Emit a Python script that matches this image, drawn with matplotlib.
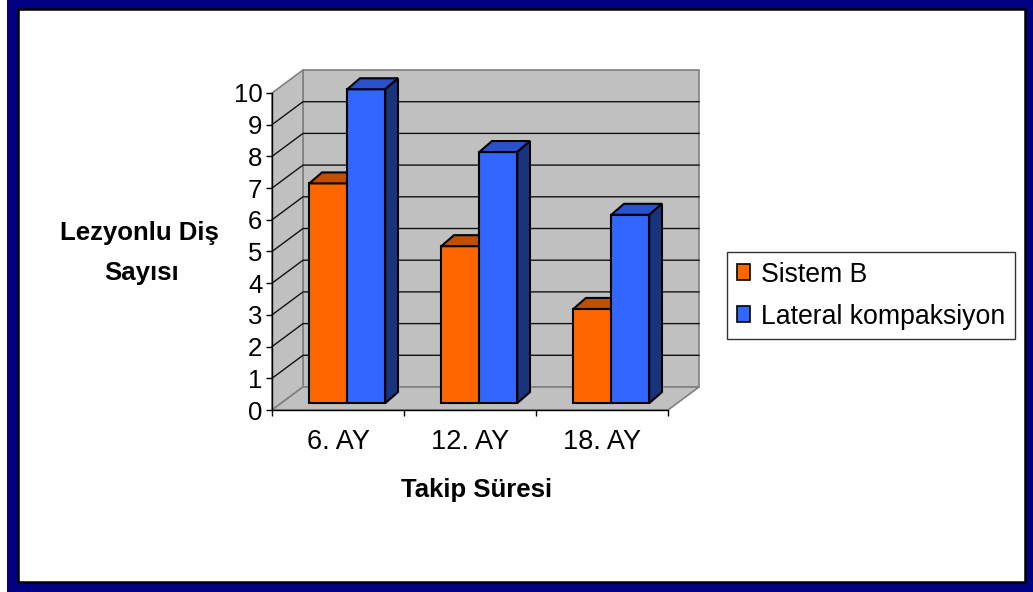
import matplotlib
matplotlib.use("Agg")
import matplotlib.pyplot as plt
from matplotlib.patches import Polygon, Rectangle, Patch

plt.rcParams['font.family'] = ['Liberation Sans', 'DejaVu Sans']

# data
categories = ['6. AY', '12. AY', '18. AY']
sistem_b = [7, 5, 3]
lateral = [10, 8, 6]
series_names = ['Sistem B', 'Lateral kompaksiyon']
y_ticks = list(range(0, 11))

W, H = 1033, 592
FRONT = ['#FF6600', '#3366FF']
TOP = ['#C04F00', '#2952CC']
SIDE = ['#803300', '#1A337F']
WALL = '#C0C0C0'
WALL_EDGE = '#808080'
FS = 18.5


def px(x, y):
    return x / W, 1 - y / H


fig = plt.figure(figsize=(W / 100, H / 100), dpi=100)
fig.patch.set_facecolor('white')

# navy frame with a black inner line
fig.patches.append(Rectangle(px(7, 592), (W - 7) / W, 1, transform=fig.transFigure,
                             facecolor='#000080', edgecolor='none', zorder=-20))
fig.patches.append(Rectangle(px(18, 581.5), (1024.5 - 18) / W, (581.5 - 9) / H,
                             transform=fig.transFigure, facecolor='white',
                             edgecolor='black', linewidth=1.8, zorder=-19))

# axes = front plane of the 3d box
ax = fig.add_axes([272 / W, (H - 410) / H, 396 / W, 317 / H])
ax.set_xlim(0, len(categories))
ax.set_ylim(0, 10)
ax.patch.set_visible(False)
for s in ['top', 'right']:
    ax.spines[s].set_visible(False)
for s in ['left', 'bottom']:
    ax.spines[s].set_color('black')
    ax.spines[s].set_linewidth(1.0)
    ax.spines[s].set_zorder(6)

# depth in data units
DX, DY = 31 / 132, 23 / 31.7
n = len(categories)

ax.add_patch(Polygon([(DX, DY), (n + DX, DY), (n + DX, 10 + DY), (DX, 10 + DY)],
                     closed=True, facecolor=WALL, edgecolor=WALL_EDGE, lw=1.2,
                     clip_on=False, zorder=1))
ax.add_patch(Polygon([(0, 0), (DX, DY), (DX, 10 + DY), (0, 10)], closed=True,
                     facecolor=WALL, edgecolor=WALL_EDGE, lw=1.2, clip_on=False, zorder=1))
ax.add_patch(Polygon([(0, 0), (n, 0), (n + DX, DY), (DX, DY)], closed=True,
                     facecolor=WALL, edgecolor=WALL_EDGE, lw=1.2, clip_on=False, zorder=1))
for v in y_ticks[1:-1]:
    ax.plot([0, DX, n + DX], [v, v + DY, v + DY], color='#111111', lw=1.0,
            clip_on=False, zorder=2)

# bars
BX, BY = 0.33 * DX, 0.30 * DY
BDX, BDY = 12.7 / 132, 11 / 31.7
bw = 38 / 132
start = 0.205
z = 3
for i in range(n):
    for k, vals in enumerate([sistem_b, lateral]):
        h = vals[i]
        x0 = i + start + k * bw + BX
        x1 = x0 + bw
        y0 = BY
        y1 = BY + h * 0.99
        ax.add_patch(Polygon([(x0, y0), (x1, y0), (x1, y1), (x0, y1)], closed=True,
                             facecolor=FRONT[k], edgecolor='black', lw=1.5,
                             clip_on=False, zorder=z))
        ax.add_patch(Polygon([(x0, y1), (x1, y1), (x1 + BDX, y1 + BDY), (x0 + BDX, y1 + BDY)],
                             closed=True, facecolor=TOP[k], edgecolor='black', lw=1.5,
                             clip_on=False, zorder=z))
        ax.add_patch(Polygon([(x1, y0), (x1 + BDX, y0 + BDY), (x1 + BDX, y1 + BDY), (x1, y1)],
                             closed=True, facecolor=SIDE[k], edgecolor='black', lw=1.5,
                             clip_on=False, zorder=z))
        z += 0.1

# ticks
ax.set_yticks(y_ticks)
ax.set_yticklabels([str(v) for v in y_ticks], fontsize=FS)
ax.tick_params(axis='y', length=4, width=1, pad=3, colors='black')
ax.set_xticks(range(n + 1))
ax.set_xticklabels([])
ax.set_xticks([i + 0.5 for i in range(n)], minor=True)
ax.set_xticklabels(categories, minor=True, fontsize=19.5)
ax.tick_params(axis='x', which='major', length=4, width=1)
ax.tick_params(axis='x', which='minor', length=0, pad=14)

# axis titles
fig.text(*px(139, 233), 'Lezyonlu Diş', fontsize=FS, fontweight='bold',
         ha='center', va='center')
fig.text(*px(142, 273), 'Sayısı', fontsize=FS, fontweight='bold',
         ha='center', va='center')
fig.text(*px(477, 490), 'Takip Süresi', fontsize=FS, fontweight='bold',
         ha='center', va='center')

# legend
handles = [Patch(facecolor=FRONT[k], edgecolor='black', lw=1.2) for k in range(2)]
leg = fig.legend(handles, series_names, loc='center left',
                 bbox_to_anchor=px(727, 295.5), fontsize=19.2, frameon=True,
                 fancybox=False, handlelength=0.52, handleheight=0.52,
                 handletextpad=0.4, labelspacing=0.6, borderpad=0.36,
                 borderaxespad=0)
leg.get_frame().set_edgecolor('black')
leg.get_frame().set_linewidth(1.0)

fig.savefig('out.png', dpi=100)
